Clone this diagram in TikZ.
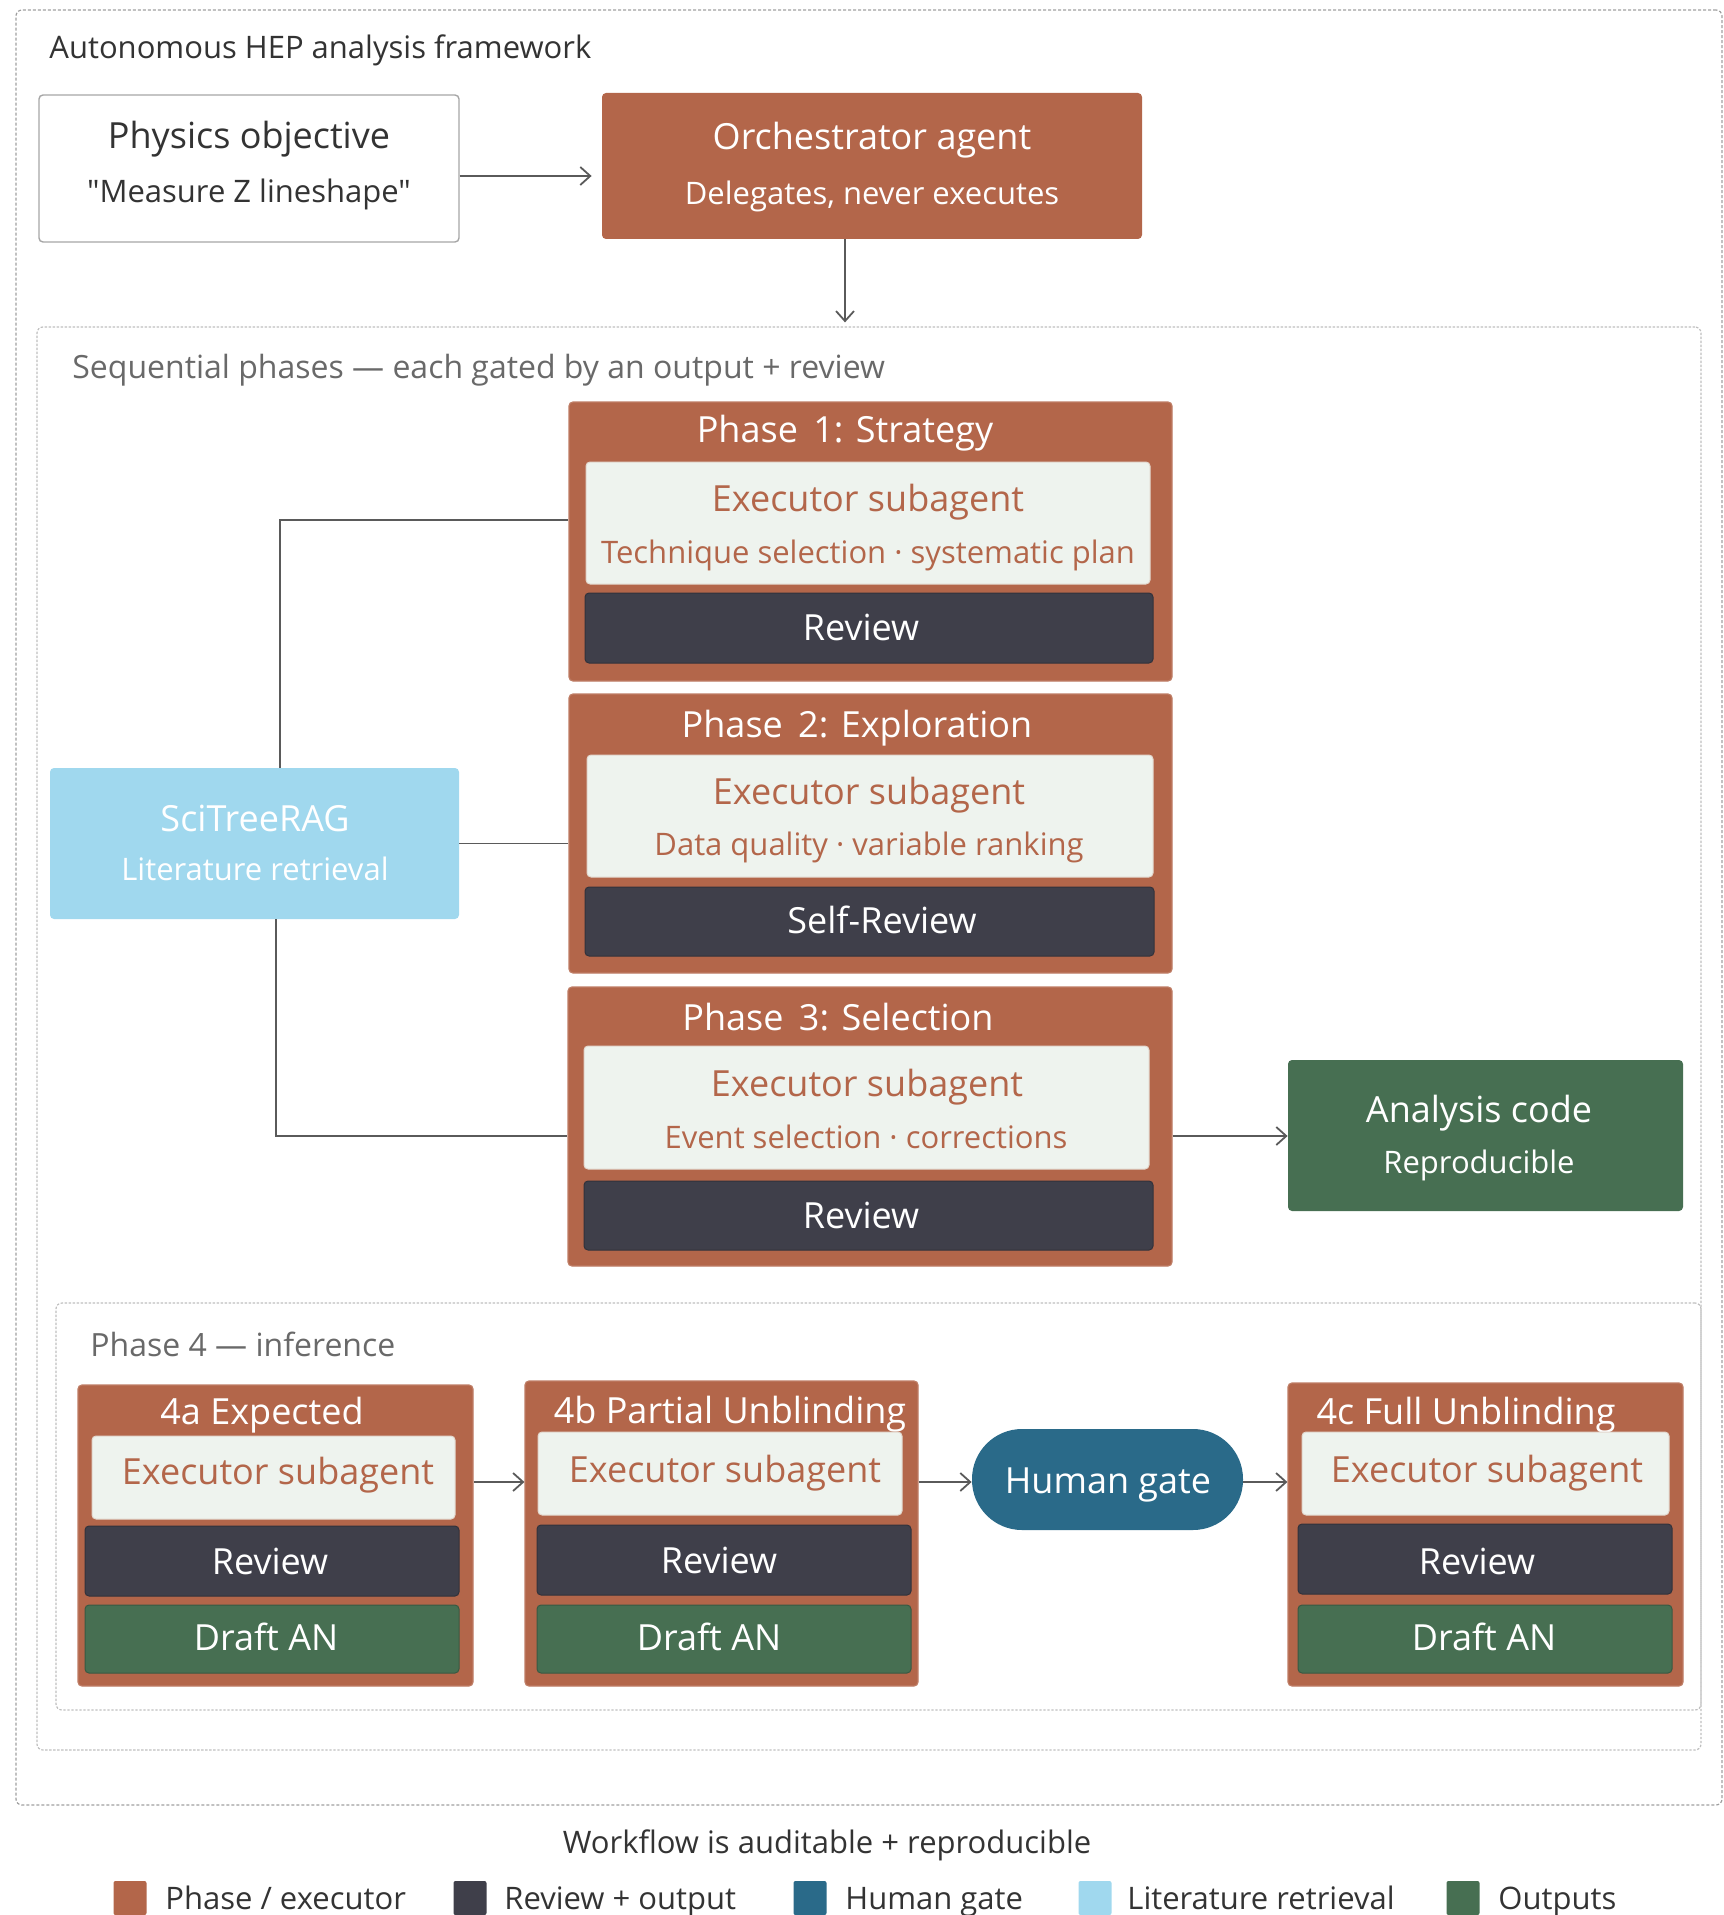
\documentclass[tikz,border=0pt]{standalone}
\usepackage{fontspec}
\setmainfont{Open Sans}[Ligatures=TeXOff]
\usetikzlibrary{fit,arrows.meta}
\definecolor{cphase}{RGB}{179,102,74}
\definecolor{cexec}{RGB}{238,243,238}
\definecolor{crev}{RGB}{63,63,74}
\definecolor{cout}{RGB}{71,111,82}
\definecolor{cgate}{RGB}{42,106,137}
\definecolor{crag}{RGB}{160,216,238}
\definecolor{cline}{RGB}{90,90,90}
\definecolor{ctext}{RGB}{51,51,51}
\definecolor{cgray}{RGB}{105,105,105}
\begin{document}
\begin{tikzpicture}[x=0.5pt,y=-0.5pt,
  box/.style={inner sep=0pt, rounded corners=2pt},
  phasebox/.style={box, fill=cphase, draw=cphase!85!white, line width=0.6pt},
  execbox/.style={box, fill=cexec, draw=cexec!80!cphase, line width=0.5pt},
  revbox/.style={box, fill=crev, draw=crev!80!black, line width=0.5pt},
  outbox/.style={box, fill=cout, draw=cout!80!black, line width=0.5pt},
  framebox/.style={draw=gray!75, dash pattern=on 1.5pt off 1pt, line width=0.6pt, rounded corners=3pt, inner sep=0pt},
  innerframe/.style={draw=gray!50, dash pattern=on 1.2pt off 0.8pt, line width=0.6pt, rounded corners=3pt, inner sep=0pt},
  conn/.style={draw=cline, line width=0.9pt},
  arr/.style={conn, -{Straight Barb[length=5pt,width=9pt]}},
  big/.style={inner sep=0pt, text depth=0pt, text height=12.9pt, font=\fontsize{18}{21}\selectfont},
  small/.style={inner sep=0pt, text depth=0pt, text height=11.1pt, font=\fontsize{15.5}{18}\selectfont},
  heading/.style={inner sep=0pt, text depth=0pt, text height=11.4pt, font=\fontsize{16}{19}\selectfont, anchor=west},
  legtext/.style={small, anchor=west, text=ctext},
  swatch/.style={inner sep=0pt, rounded corners=1pt, minimum width=16.5pt, minimum height=17pt},
]
\useasboundingbox (0,0) rectangle (1723,1915);

% frames
\node[framebox, fit={(16,10) (1722,1805)}] (outer) {};
\node[heading, text=ctext, font=\fontsize{15.5}{19}\selectfont, text height=11.1pt] (ttl) at (49,47) {Autonomous HEP analysis framework};
\node[innerframe, fit={(37,327) (1701,1750)}] (seq) {};
\node[heading, text=cgray] (seqlab) at (72,367) {Sequential phases — each gated by an output + review};
\node[innerframe, fit={(56,1303) (1701,1710)}] (ph4) {};
\node[heading, text=cgray] (ph4lab) at (90,1345) {Phase 4 — inference};

% top row
\node[box, fill=white, draw=gray!70, line width=0.7pt, fit={(39,95) (459,242)}] (phys) {};
\node[big, text=ctext] (physa) at (249,136) {Physics objective};
\node[small, text=ctext] (physb) at (249,191) {"Measure Z lineshape"};
\node[box, fill=cphase, fit={(602,93) (1142,239)}] (orch) {};
\node[big, text=white] (orcha) at (872,137) {Orchestrator agent};
\node[small, text=white] (orchb) at (872,193) {Delegates, never executes};
\coordinate (k0) at (0,176);
\draw[arr, shorten >=5pt] (phys.east |- k0) -- (orch.west |- k0);
\coordinate (k00) at (845,0);
\draw[arr, shorten >=2pt] (orch.south -| k00) -- (seq.north -| k00);

% Phase 1
\node[phasebox, fit={(569,402) (1172,681)}] (p1) {};
\node[big, text=white] (p1t) at (845,430) {Phase\, 1: Strategy};
\node[execbox, fit={(586,462) (1150,584)}] (e1) {};
\node[big, text=cphase] (e1a) at (868,499) {Executor subagent};
\node[small, text=cphase] (e1b) at (868,552) {Technique selection · systematic plan};
\node[revbox, fit={(585,593) (1153,663)}] (r1) {};
\node[big, text=white] (r1t) at (861,628) {Review};

% Phase 2
\node[phasebox, fit={(569,694) (1172,973)}] (p2) {};
\node[big, text=white] (p2t) at (857,725) {Phase\, 2: Exploration};
\node[execbox, fit={(587,755) (1153,877)}] (e2) {};
\node[big, text=cphase] (e2a) at (869,792) {Executor subagent};
\node[small, text=cphase] (e2b) at (869,844) {Data quality · variable ranking};
\node[revbox, fit={(585,887) (1154,956)}] (r2) {};
\node[big, text=white] (r2t) at (882,921) {Self-Review};

% Phase 3
\node[phasebox, fit={(568,987) (1172,1266)}] (p3) {};
\node[big, text=white] (p3t) at (838,1018) {Phase\, 3: Selection};
\node[execbox, fit={(584,1046) (1149,1169)}] (e3) {};
\node[big, text=cphase] (e3a) at (867,1084) {Executor subagent};
\node[small, text=cphase] (e3b) at (866,1137) {Event selection · corrections};
\node[revbox, fit={(584,1181) (1153,1250)}] (r3) {};
\node[big, text=white] (r3t) at (861,1216) {Review};

% SciTreeRAG
\node[box, fill=crag, fit={(50,768) (459,919)}] (rag) {};
\node[big, text=white] (raga) at (255,819) {SciTreeRAG};
\node[small, text=white] (ragb) at (255,869) {Literature retrieval};
\coordinate (k1) at (280,520);
\draw[conn] (rag.north -| k1) |- (p1.west |- k1);
\draw[conn] (rag.east) -- (rag.east -| p2.west);
\coordinate (k3) at (276,1136);
\draw[conn] (rag.south -| k3) |- (p3.west |- k3);

% Analysis code
\node[box, fill=cout, fit={(1288,1060) (1683,1211)}] (code) {};
\node[big, text=white] (codea) at (1479,1110) {Analysis code};
\node[small, text=white] (codeb) at (1479,1162) {Reproducible};
\coordinate (k4) at (0,1136);
\draw[arr] (p3.east |- k4) -- (code.west |- k4);

% Phase 4a
\node[phasebox, fit={(78,1385) (473,1686)}] (a) {};
\node[big, text=white] (at) at (262,1412) {4a Expected};
\node[execbox, fit={(92,1436) (455,1519)}] (ae) {};
\node[big, text=cphase] (aet) at (278,1472) {Executor subagent};
\node[revbox, fit={(85,1526) (459,1596)}] (ar) {};
\node[big, text=white] (art) at (270,1562) {Review};
\node[outbox, fit={(85,1605) (459,1673)}] (ad) {};
\node[big, text=white] (adt) at (266,1638) {Draft AN};

% Phase 4b
\node[phasebox, fit={(525,1381) (918,1686)}] (b) {};
\node[big, text=white] (bt) at (730,1411) {4b Partial Unblinding};
\node[execbox, fit={(538,1432) (902,1515)}] (be) {};
\node[big, text=cphase] (bet) at (725,1470) {Executor subagent};
\node[revbox, fit={(537,1525) (911,1595)}] (br) {};
\node[big, text=white] (brt) at (719,1561) {Review};
\node[outbox, fit={(537,1605) (911,1673)}] (bd) {};
\node[big, text=white] (bdt) at (709,1638) {Draft AN};

% Human gate
\node[inner sep=0pt, rounded corners=25pt, fill=cgate, fit={(972,1429) (1243,1530)}] (gate) {};
\node[big, text=white] (gatet) at (1108,1481) {Human gate};

% Phase 4c
\node[phasebox, fit={(1288,1383) (1683,1686)}] (c) {};
\node[big, text=white] (ct) at (1466,1412) {4c Full Unblinding};
\node[execbox, fit={(1302,1432) (1669,1515)}] (ce) {};
\node[big, text=cphase] (cet) at (1487,1470) {Executor subagent};
\node[revbox, fit={(1298,1524) (1672,1594)}] (cr) {};
\node[big, text=white] (crt) at (1477,1562) {Review};
\node[outbox, fit={(1298,1605) (1672,1673)}] (cd) {};
\node[big, text=white] (cdt) at (1484,1638) {Draft AN};

\coordinate (k5) at (0,1482);
\draw[arr] (a.east |- k5) -- (b.west |- k5);
\draw[arr] (b.east |- k5) -- (gate.west |- k5);
\draw[arr] (gate.east |- k5) -- (c.west |- k5);

% footer
\node[small, text=ctext] (foot) at (827,1842) {Workflow is auditable + reproducible};

\node[swatch, fill=cphase] (s1) at (130,1898) {};
\node[legtext] (l1) at (165,1898) {Phase / executor};
\node[swatch, fill=crev] (s2) at (470,1898) {};
\node[legtext] (l2) at (504,1898) {Review + output};
\node[swatch, fill=cgate] (s3) at (810,1898) {};
\node[legtext] (l3) at (845,1898) {Human gate};
\node[swatch, fill=crag] (s4) at (1095,1898) {};
\node[legtext] (l4) at (1127,1898) {Literature retrieval};
\node[swatch, fill=cout] (s5) at (1463,1898) {};
\node[legtext] (l5) at (1498,1898) {Outputs};
\end{tikzpicture}
\end{document}
